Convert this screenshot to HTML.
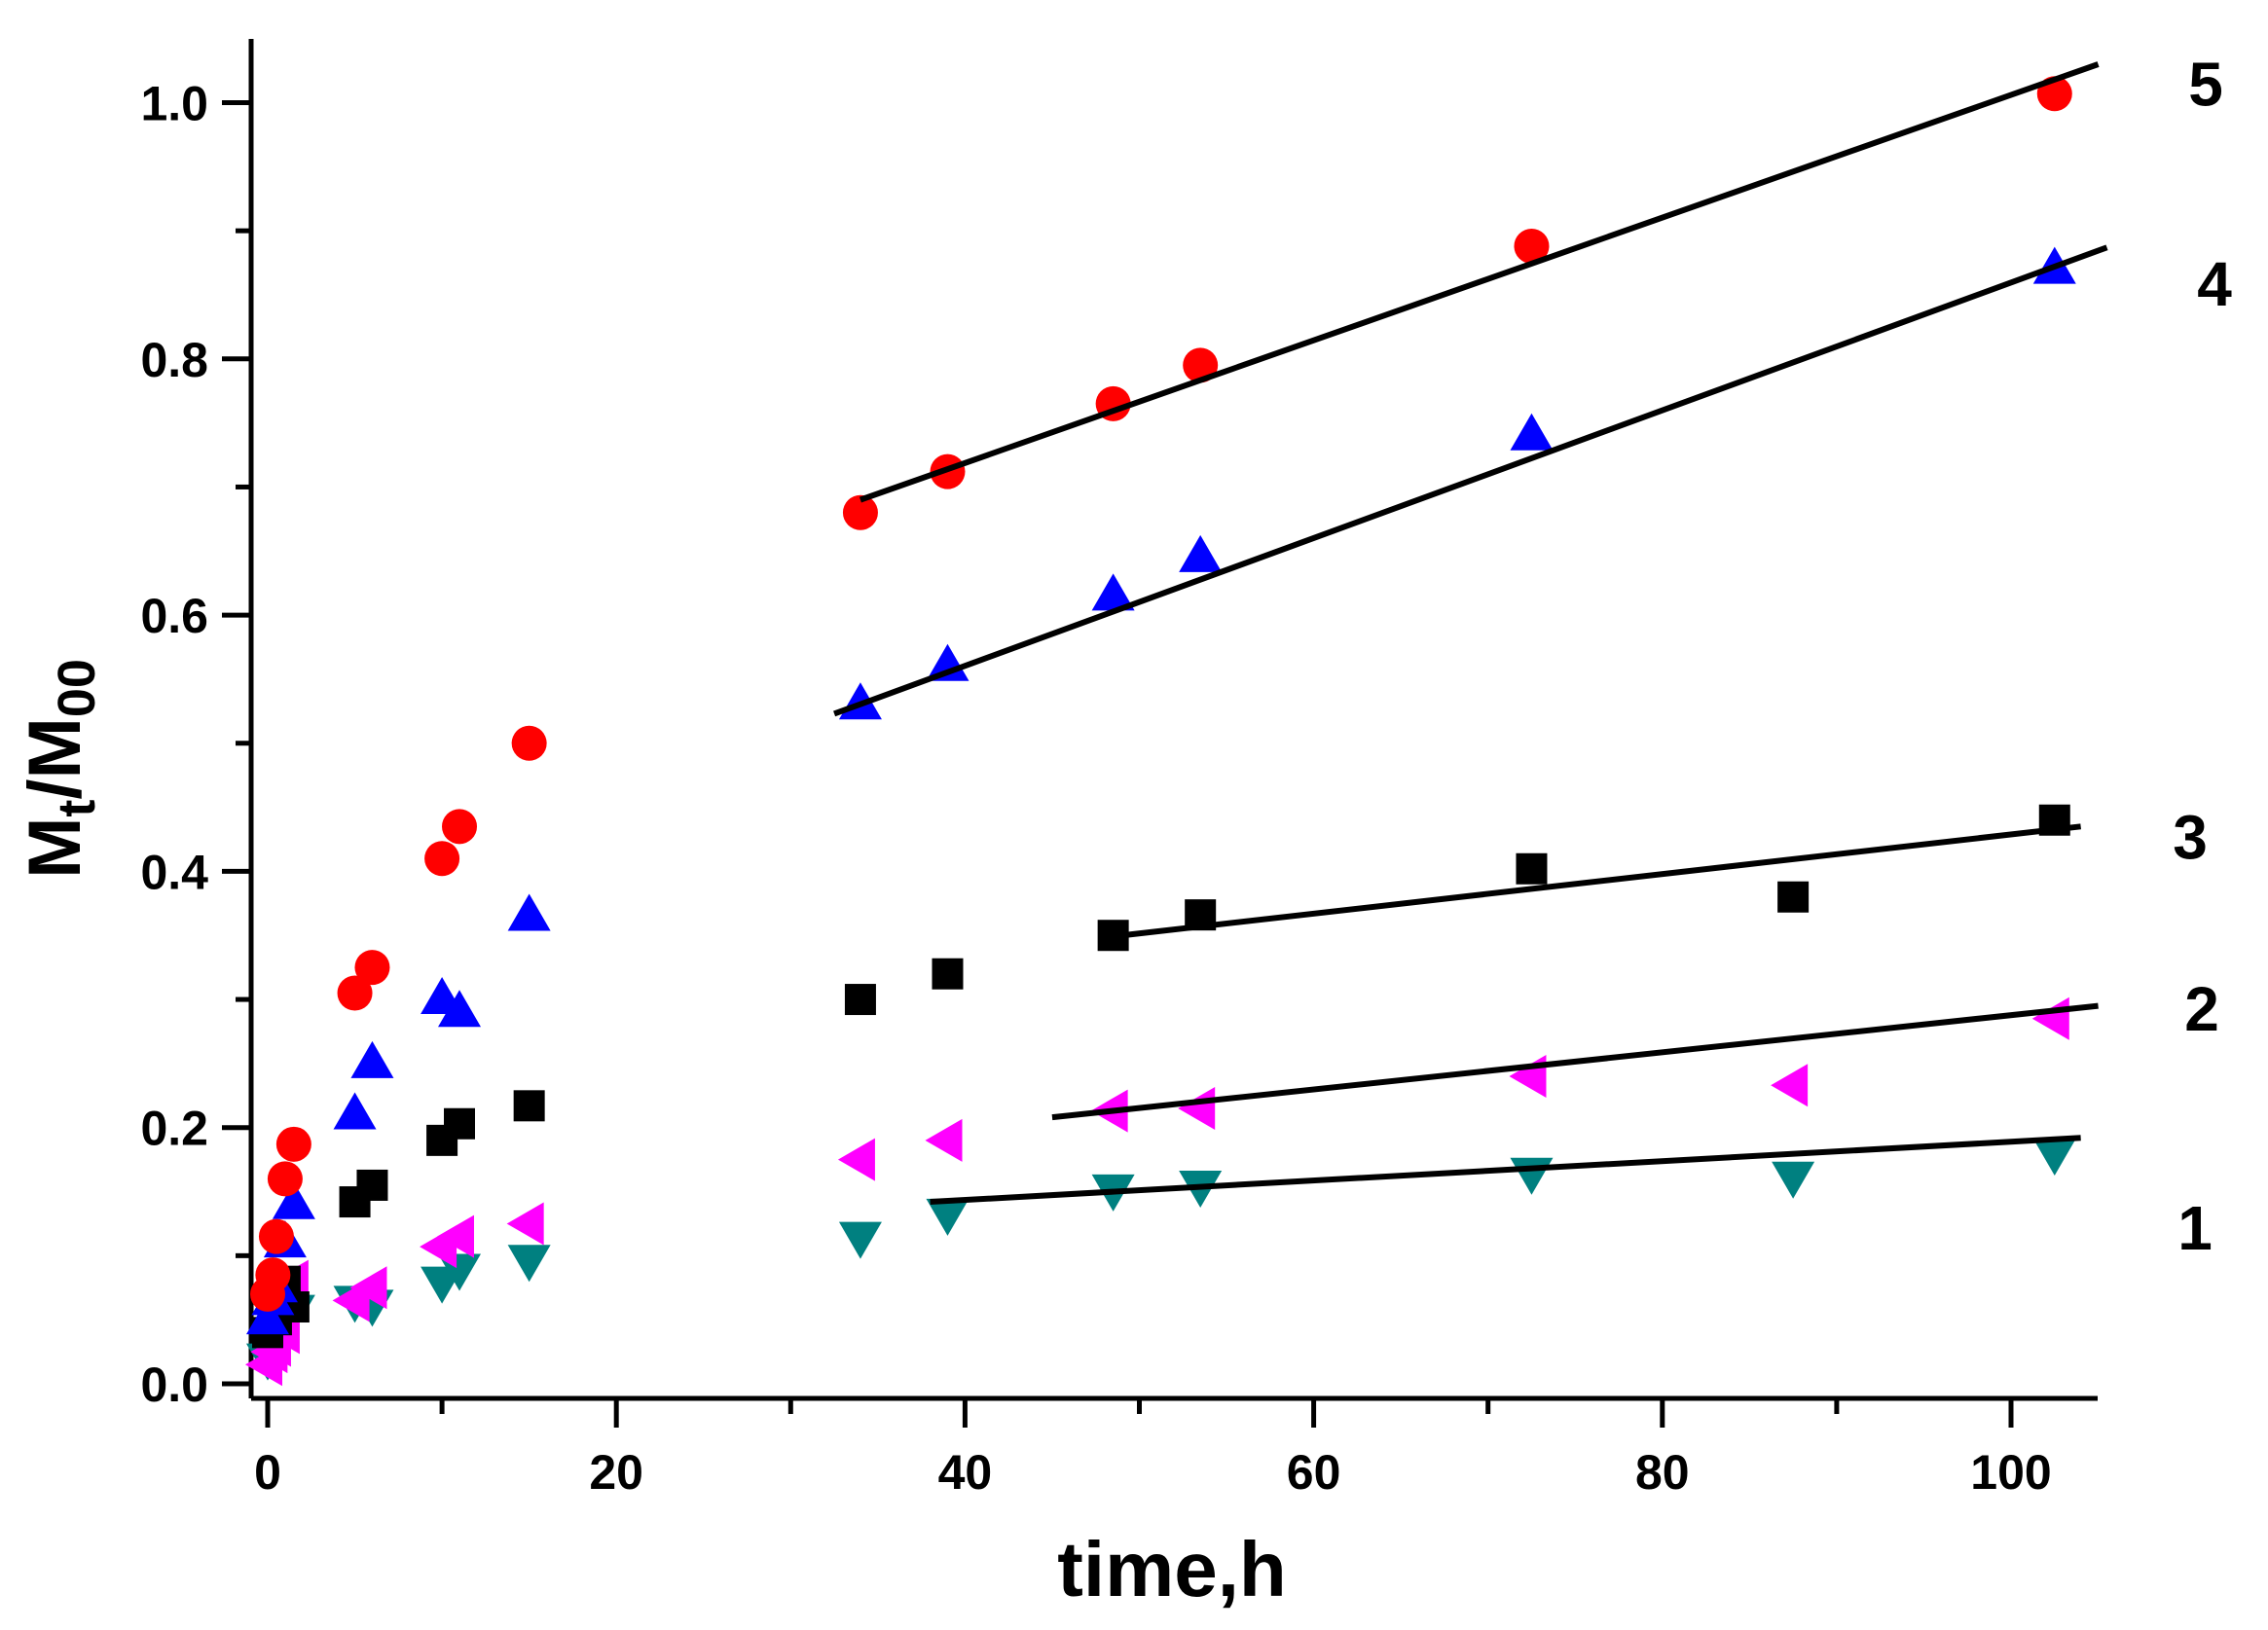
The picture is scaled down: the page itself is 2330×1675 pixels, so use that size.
<!DOCTYPE html>
<html><head><meta charset="utf-8"><style>
html,body{margin:0;padding:0;background:#fff;}
svg{display:block;font-family:"Liberation Sans",Arial,sans-serif;font-weight:bold;}
</style></head><body>
<svg id="chart" width="2330" height="1675" viewBox="0 0 2330 1675" xmlns="http://www.w3.org/2000/svg">
<g id="axes"></g>
<g id="marks"></g>
<text x="1204" y="1640" font-size="80" text-anchor="middle">time,h</text>
<text transform="translate(82,790) rotate(-90)" font-size="76" text-anchor="middle">M<tspan font-size="54" dy="15">t</tspan><tspan dy="-15">/M</tspan><tspan font-size="54" dy="15">00</tspan></text>
</svg>
<script>
const xTicks=[0,20,40,60,80,100];
const yTicks=[0.0,0.2,0.4,0.6,0.8,1.0];
const s5x=[0,0.3,0.5,1,1.5,5,6,10,11,15,34,39,48.5,53.5,72.5,102.5];
const s5y=[0.07,0.085,0.115,0.16,0.187,0.305,0.325,0.41,0.435,0.5,0.68,0.712,0.765,0.795,0.888,1.007];
const s4x=[0,0.3,0.5,1,1.5,5,6,10,11,15,34,39,48.5,53.5,72.5,102.5];
const s4y=[0.05,0.065,0.075,0.11,0.14,0.21,0.25,0.3,0.29,0.365,0.53,0.56,0.615,0.645,0.74,0.87];
const s3x=[0,0.5,1,1.5,5,6,10,11,15,34,39,48.5,53.5,72.5,87.5,102.5];
const s3y=[0.04,0.05,0.08,0.06,0.142,0.155,0.19,0.203,0.217,0.3,0.32,0.35,0.366,0.402,0.38,0.44];
const s2x=[0,0.3,0.5,1,1.5,5,6,10,11,15,34,39,48.5,53.5,72.5,87.5,102.5];
const s2y=[0.015,0.025,0.03,0.04,0.08,0.065,0.075,0.107,0.115,0.125,0.175,0.19,0.213,0.215,0.24,0.233,0.285];
const s1x=[0,0.3,0.5,1,1.5,5,6,10,11,15,34,39,48.5,53.5,72.5,87.5,102.5];
const s1y=[0.02,0.03,0.04,0.05,0.058,0.065,0.062,0.08,0.09,0.097,0.115,0.133,0.152,0.155,0.165,0.162,0.18];
const fitX1=[34,32.5,49,45,38];
const fitY1=[0.69,0.523,0.35,0.208,0.142];
const fitX2=[105,105.5,104,105,104];
const fitY2=[1.03,0.887,0.435,0.295,0.192];
const fitLabels=["5","4","3","2","1"];
const labelY=[1.016,0.86,0.428,0.294,0.123];

const NS="http://www.w3.org/2000/svg";
const X=v=>275+v*17.91;
const Y=v=>1422-v*1316.5;
function mk(tag,attrs,parent){const e=document.createElementNS(NS,tag);for(const k in attrs)e.setAttribute(k,attrs[k]);parent.appendChild(e);return e;}
const axes=document.getElementById('axes'),marks=document.getElementById('marks');
let el;
el=mk('line',{x1:258,y1:1437,x2:2155,y2:1437,stroke:'#000','stroke-width':5},axes);


el=mk('line',{x1:258,y1:1437,x2:258,y2:40,stroke:'#000','stroke-width':5},axes);


for(let v=0;v<=100;v+=10){
  const major=v%20===0;
  el=mk('line',{x1:X(v),y1:1437,x2:X(v),y2:1437+(major?30:16),stroke:'#000','stroke-width':5},axes);
  
  
}
xTicks.forEach(t=>{
  el=mk('text',{x:X(t),y:1530,'font-size':50,'text-anchor':'middle'},axes);el.textContent=String(t);
  
  
});
for(let i=0;i<=10;i++){
  const v=i/10,major=i%2===0;
  el=mk('line',{x1:258,y1:Y(v),x2:258-(major?30:16),y2:Y(v),stroke:'#000','stroke-width':5},axes);
  
  
}
yTicks.forEach(t=>{
  el=mk('text',{x:214,y:Y(t)+18,'font-size':50,'text-anchor':'end'},axes);el.textContent=t.toFixed(1);
  
  
});
function drawSeries(xs,ys,shape,color,name){
  xs.forEach((xv,i)=>{
    const cx=X(xv),cy=Y(ys[i]);let e;
    if(shape==='circle')e=mk('circle',{cx:cx,cy:cy,r:18,fill:color},marks);
    else if(shape==='square')e=mk('rect',{x:cx-16,y:cy-16,width:32,height:32,fill:color},marks);
    else if(shape==='up')e=mk('polygon',{points:`${cx},${cy-23} ${cx+22},${cy+15} ${cx-22},${cy+15}`,fill:color},marks);
    else if(shape==='down')e=mk('polygon',{points:`${cx},${cy+23} ${cx+22},${cy-15} ${cx-22},${cy-15}`,fill:color},marks);
    else e=mk('polygon',{points:`${cx-23},${cy} ${cx+15},${cy-22} ${cx+15},${cy+22}`,fill:color},marks);
    
    
  });
}
drawSeries(s1x,s1y,'down','#008080','point-series-1');
drawSeries(s2x,s2y,'left','#ff00ff','point-series-2');
drawSeries(s3x,s3y,'square','#000000','point-series-3');
drawSeries(s4x,s4y,'up','#0000ff','point-series-4');
drawSeries(s5x,s5y,'circle','#ff0000','point-series-5');
const labelX=[2266,2275,2250,2262,2255];
fitLabels.forEach((lab,i)=>{
  el=mk('line',{x1:X(fitX1[i]),y1:Y(fitY1[i]),x2:X(fitX2[i]),y2:Y(fitY2[i]),stroke:'#000','stroke-width':6},marks);
  
  
  el=mk('text',{x:labelX[i],y:Y(labelY[i])+24,'font-size':64,'text-anchor':'middle'},marks);el.textContent=lab;
  
  
});
</script>
</body></html>
